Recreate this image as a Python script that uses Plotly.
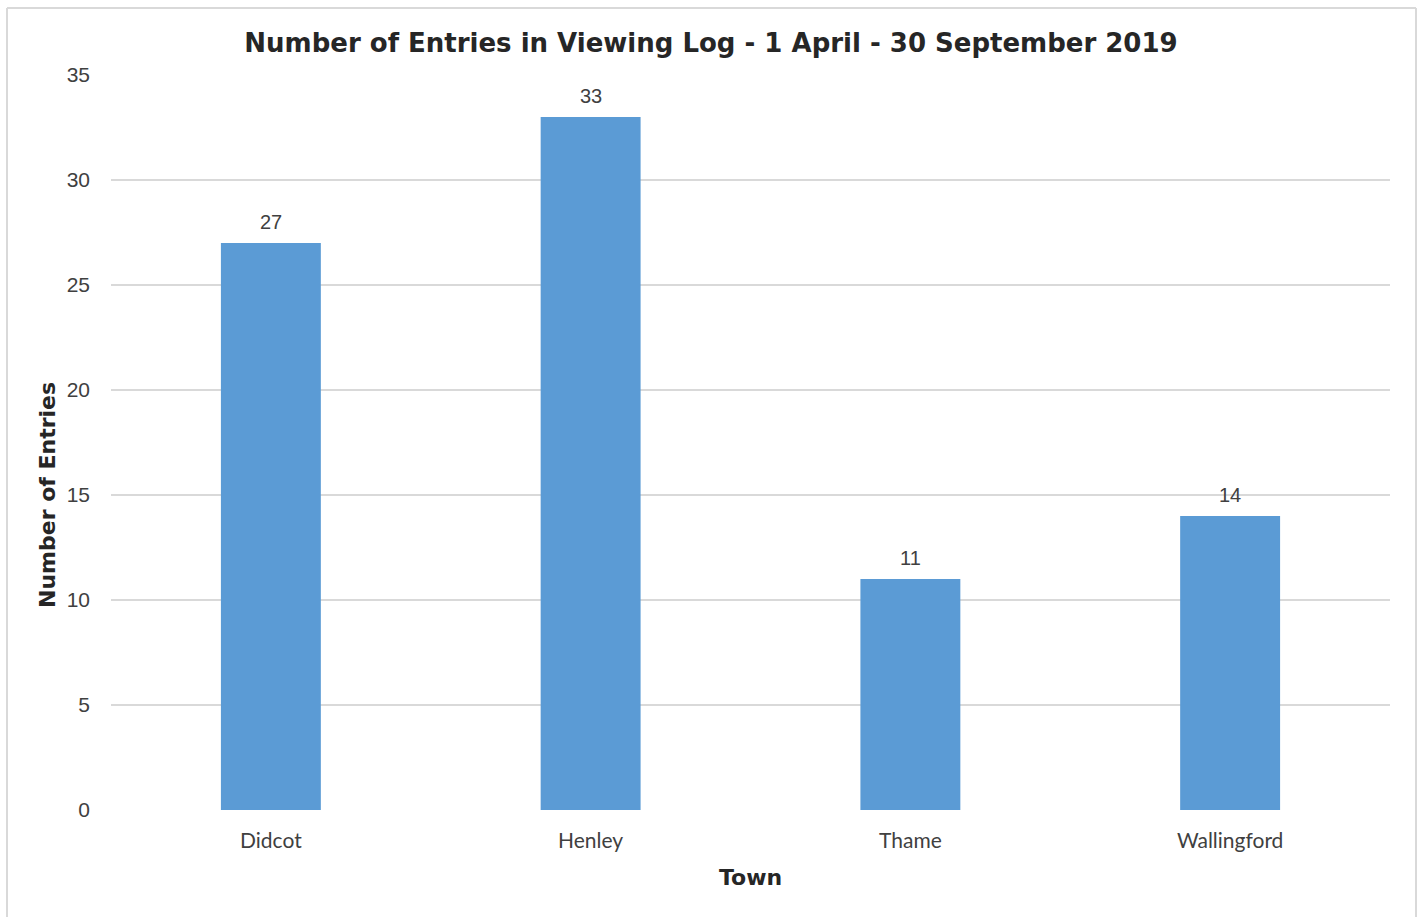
import plotly.graph_objects as go

# Viewing log entries by town, 1 April - 30 September 2019
towns = ["Didcot", "Henley", "Thame", "Wallingford"]
entries = [27, 33, 11, 14]
y_ticks = [0, 5, 10, 15, 20, 25, 30, 35]

W, H = 1422, 917
L, R, T, B = 111, 32, 75, 107
pw, ph = W - L - R, H - T - B

bar_color = "#5b9bd5"
grid_color = "#d9d9d9"
text_color = "#404040"
heading_color = "#262626"
heavy_font = "DejaVu Sans, Arial Black"


def px_x(p):
    return (p - L) / pw


def px_y(p):
    return 1 - (p - T) / ph


fig = go.Figure(
    go.Bar(
        x=towns,
        y=entries,
        marker=dict(color=bar_color, line=dict(width=0)),
        width=0.3125,
        hoverinfo="x+y",
    )
)

# Data labels above each bar
for t, v in zip(towns, entries):
    fig.add_annotation(
        x=t, y=v, text=str(v), showarrow=False,
        yanchor="bottom", yshift=8,
        font=dict(family="Liberation Sans, Arial", size=20, color=text_color),
    )

# Axis titles
fig.add_annotation(
    xref="paper", yref="paper", x=px_x(47), y=px_y(495),
    text="<b>Number of Entries</b>", textangle=-90, showarrow=False,
    xanchor="center", yanchor="middle",
    font=dict(family=heavy_font, size=22, color=heading_color),
)
fig.add_annotation(
    xref="paper", yref="paper", x=px_x(750), y=px_y(877),
    text="<b>Town</b>", showarrow=False,
    xanchor="center", yanchor="middle",
    font=dict(family=heavy_font, size=22, color=heading_color),
)

# Thin outer frame around the chart area
frame = dict(color="#d9d9d9", width=2)
fig.add_shape(type="line", xref="paper", yref="paper",
              x0=px_x(7), x1=px_x(7), y0=px_y(8), y1=px_y(930), line=frame)
fig.add_shape(type="line", xref="paper", yref="paper",
              x0=px_x(7), x1=px_x(1416), y0=px_y(8), y1=px_y(8), line=frame)
fig.add_shape(type="line", xref="paper", yref="paper",
              x0=px_x(1416), x1=px_x(1416), y0=px_y(8), y1=px_y(930), line=frame)

fig.update_layout(
    width=W, height=H,
    margin=dict(l=L, r=R, t=T, b=B),
    paper_bgcolor="white",
    plot_bgcolor="white",
    showlegend=False,
    bargap=0.6875,
    title=dict(
        text="<b>Number of Entries in Viewing Log - 1 April - 30 September 2019</b>",
        x=711 / W, xanchor="center",
        y=1 - 43 / H, yanchor="middle",
        font=dict(family=heavy_font, size=26, color=heading_color),
    ),
    xaxis=dict(
        tickfont=dict(family="Lato, Calibri, sans-serif", size=21, color=text_color),
        ticklabelstandoff=16,
        showgrid=False,
        showline=False,
        zeroline=False,
    ),
    yaxis=dict(
        range=[0, 35],
        tickvals=y_ticks,
        ticktext=[str(v) for v in y_ticks],
        tickfont=dict(family="Liberation Sans, Arial", size=21, color=text_color),
        ticklabelstandoff=20,
        showgrid=True,
        gridcolor=grid_color,
        gridwidth=1.5,
        zeroline=False,
        showline=False,
    ),
)

fig.write_html("out.html")
